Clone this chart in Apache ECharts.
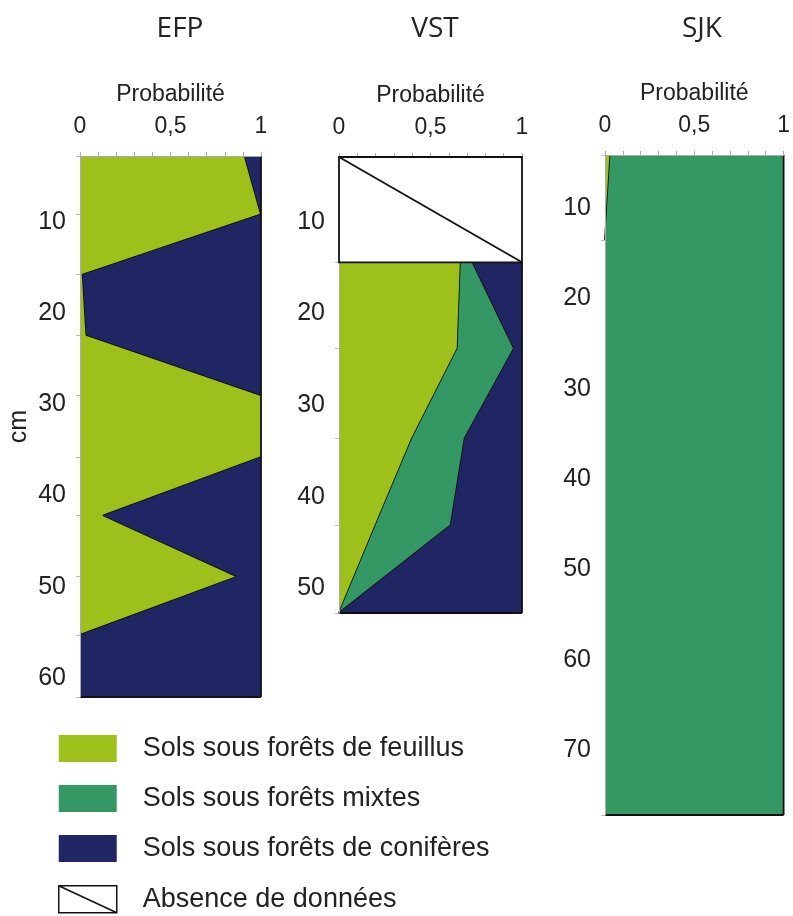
<!DOCTYPE html>
<html>
<head>
<meta charset="utf-8">
<script src="https://cdn.jsdelivr.net/npm/echarts@6/dist/echarts.min.js"></script>
<style>
html,body{margin:0;padding:0;background:#fff;}
#chart{width:793px;height:916px;}
</style>
</head>
<body>
<div id="chart"></div>
<script>
// ---------- DATA ----------
const panelTitles = ['EFP', 'VST', 'SJK'];
const classNames = ['Sols sous forêts de feuillus', 'Sols sous forêts mixtes', 'Sols sous forêts de conifères'];
const absenceName = 'Absence de données';
const xAxisName = 'Probabilité';
const yAxisName = 'cm';
const xTickLabels = [0, 0.5, 1];

// EFP (depth in cm, probabilities per class)
const efpDepth     = [2.8, 9.2, 15.8, 22.4, 29.0, 35.8, 42.2, 48.9, 55.3, 62.1];
const efpFeuillus  = [0.91, 1.0, 0.015, 0.035, 1.0, 1.0, 0.13, 0.87, 0, 0];
const efpMixtes    = [0, 0, 0, 0, 0, 0, 0, 0, 0, 0];
const efpConiferes = [0.09, 0, 0.985, 0.965, 0, 0, 0.87, 0.13, 1, 1];
const efpYLabels   = [10, 20, 30, 40, 50, 60];

// VST
const vstAbsence   = [2.9, 14.4];
const vstDepth     = [14.4, 23.8, 33.6, 43.1, 52.7];
const vstFeuillus  = [0.665, 0.648, 0.40, 0.20, 0];
const vstMixtes    = [0.065, 0.308, 0.287, 0.41, 0];
const vstConiferes = [0.27, 0.044, 0.313, 0.39, 1];
const vstYLabels   = [10, 20, 30, 40, 50];

// SJK
const sjkDepth     = [4.1, 13.5, 77.2];
const sjkFeuillus  = [0.03, 0, 0];
const sjkMixtes    = [0.97, 1, 1];
const sjkConiferes = [0, 0, 0];
const sjkYLabels   = [10, 20, 30, 40, 50, 60, 70];

// ---------- STYLE ----------
const colors = ['#9dc11a', '#349865', '#202664'];
const FONT = 'Liberation Sans, Arial, sans-serif';
const LW = 1.8;
const grids = [
  {left: 80,  top: 156, width: 181, height: 541},
  {left: 339, top: 157, width: 183, height: 456},
  {left: 605, top: 155, width: 182, height: 660}
];
const titleX = [175, 430, 697];

const panels = [
  {depth: efpDepth, classes: [efpFeuillus, efpMixtes, efpConiferes], yLabels: efpYLabels, top: efpDepth[0]},
  {depth: vstDepth, classes: [vstFeuillus, vstMixtes, vstConiferes], yLabels: vstYLabels, top: vstAbsence[0], absence: vstAbsence},
  {depth: sjkDepth, classes: [sjkFeuillus, sjkMixtes, sjkConiferes], yLabels: sjkYLabels, top: sjkDepth[0]}
];

function classSeries(name, idx, depth, lo, hi, color) {
  const data = depth.map((d, i) => [lo[i], hi[i], d]);
  return {
    type: 'custom', name: name,
    xAxisIndex: idx, yAxisIndex: idx,
    coordinateSystem: 'cartesian2d',
    itemStyle: {color: color},
    encode: {x: [0, 1], y: 2},
    data: data,
    z: 2,
    silent: true,
    renderItem: function (params, api) {
      if (params.dataIndexInside !== 0) return null;
      const n = params.dataInsideLength;
      const L = [], R = [], W = [];
      for (let i = 0; i < n; i++) {
        const a = api.value(0, i), b = api.value(1, i), y = api.value(2, i);
        L.push(api.coord([a, y]));
        R.push(api.coord([b, y]));
        W.push(b - a);
      }
      const children = [{
        type: 'polygon',
        shape: {points: L.concat(R.slice().reverse())},
        style: {fill: color, stroke: null}
      }];
      let run = null;
      for (let i = 0; i < n - 1; i++) {
        if (W[i] > 1e-9 || W[i + 1] > 1e-9) {
          if (!run) run = [R[i]];
          run.push(R[i + 1]);
        } else if (run) {
          children.push({type: 'polyline', shape: {points: run}, style: {stroke: '#111', lineWidth: LW, fill: null, lineJoin: 'round'}});
          run = null;
        }
      }
      if (run) children.push({type: 'polyline', shape: {points: run}, style: {stroke: '#111', lineWidth: LW, fill: null, lineJoin: 'round'}});
      if (W[n - 1] > 1e-9) {
        children.push({type: 'line', shape: {x1: L[n - 1][0], y1: L[n - 1][1], x2: R[n - 1][0], y2: R[n - 1][1]}, style: {stroke: '#111', lineWidth: LW}});
      }
      return {type: 'group', children: children};
    }
  };
}

const series = [];
panels.forEach((p, idx) => {
  const cum = p.depth.map(() => 0);
  p.classes.forEach((vals, c) => {
    const lo = cum.slice();
    const hi = cum.map((v, i) => v + vals[i]);
    series.push(classSeries(classNames[c], idx, p.depth, lo, hi, colors[c]));
    hi.forEach((v, i) => cum[i] = v);
  });
  if (p.absence) {
    series.push({
      type: 'custom', name: absenceName,
      xAxisIndex: idx, yAxisIndex: idx,
      coordinateSystem: 'cartesian2d',
      itemStyle: {color: '#fff', borderColor: '#000'},
      encode: {x: [0, 1], y: [2, 3]},
      data: [[0, 1, p.absence[0], p.absence[1]]],
      z: 20, silent: true,
      renderItem: function (params, api) {
        const a = api.coord([api.value(0), api.value(2)]);
        const b = api.coord([api.value(1), api.value(3)]);
        return {type: 'group', children: [
          {type: 'rect', shape: {x: a[0], y: a[1], width: b[0] - a[0], height: b[1] - a[1]}, style: {fill: '#fff', stroke: '#111', lineWidth: LW}},
          {type: 'line', shape: {x1: a[0], y1: a[1], x2: b[0], y2: b[1]}, style: {stroke: '#111', lineWidth: LW}}
        ]};
      }
    });
  }
});

const option = {
  backgroundColor: '#fff',
  animation: false,
  title: panelTitles.map((t, i) => ({
    text: t, left: titleX[i], top: 10, textAlign: 'center',
    textStyle: {fontFamily: 'Open Sans, sans-serif', fontSize: 28, fontWeight: 'normal', color: '#222'}
  })),
  grid: grids.map(g => Object.assign({containLabel: false}, g)),
  xAxis: grids.map((g, i) => ({
    type: 'value', gridIndex: i, position: 'top', min: 0, max: 1, interval: 0.1,
    name: xAxisName, nameLocation: 'middle', nameGap: 50,
    nameTextStyle: {fontFamily: FONT, fontSize: 23, color: '#222'},
    axisLine: {show: true, lineStyle: {color: '#aaa', width: 1}},
    axisTick: {show: true, inside: false, length: 4, lineStyle: {color: '#aaa'}},
    axisLabel: {customValues: xTickLabels, margin: 18, fontFamily: FONT, fontSize: 23, color: '#222',
      formatter: v => String(v).replace('.', ',')},
    splitLine: {show: false},
    z: 10
  })),
  yAxis: panels.map((p, i) => ({
    type: 'value', gridIndex: i, inverse: true,
    min: p.top, max: p.depth[p.depth.length - 1],
    name: i === 0 ? yAxisName : '', nameLocation: 'middle', nameGap: 48, nameRotate: 90,
    nameTextStyle: {fontFamily: FONT, fontSize: 25, color: '#222'},
    axisLine: {show: true, lineStyle: {color: '#aaa', width: 1}},
    axisTick: {show: true, customValues: p.depth, length: 4, lineStyle: {color: '#bbb'}},
    axisLabel: {customValues: p.yLabels, margin: 14, fontFamily: FONT, fontSize: 25, color: '#222'},
    splitLine: {show: false},
    z: 10
  })),
  legend: {
    orient: 'vertical', left: 58, top: 735, padding: 0,
    itemWidth: 58, itemHeight: 27, itemGap: 23,
    selectedMode: false,
    textStyle: {fontFamily: FONT, fontSize: 27, color: '#222', padding: [0, 0, 0, 21]},
    data: [
      {name: classNames[0], icon: 'rect', itemStyle: {color: colors[0], borderWidth: 0}},
      {name: classNames[1], icon: 'rect', itemStyle: {color: colors[1], borderWidth: 0}},
      {name: classNames[2], icon: 'rect', itemStyle: {color: colors[2], borderWidth: 0}},
      {name: absenceName, icon: 'path://M0,0H58V27H0Z M0,0L58,27', itemStyle: {color: '#fff', borderColor: '#111', borderWidth: 1.5}}
    ]
  },
  series: series
};

const chart = echarts.init(document.getElementById('chart'), null, {renderer: 'canvas'});
chart.setOption(option);
</script>
</body>
</html>
